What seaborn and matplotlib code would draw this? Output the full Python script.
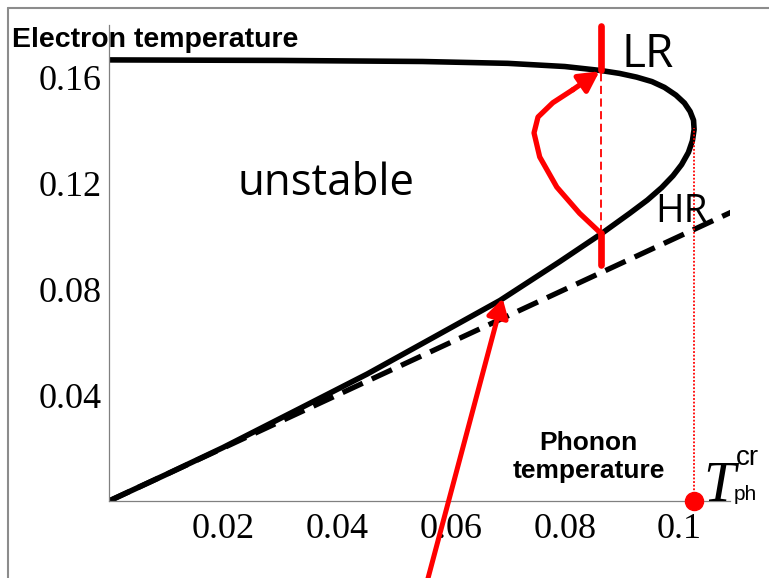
import matplotlib
matplotlib.use("Agg")
import matplotlib.pyplot as plt
from matplotlib.lines import Line2D
import seaborn as sns

# S-shaped steady-state curve: electron temperature vs phonon temperature
curve_x = [0.000, 0.010, 0.020, 0.0335, 0.0453, 0.0568, 0.0686, 0.0791, 0.0865,
           0.0914, 0.0945, 0.0970, 0.0990, 0.1005, 0.1017, 0.1024, 0.1027, 0.1026,
           0.1020, 0.1010, 0.0995, 0.0975, 0.0953, 0.0926, 0.0896, 0.0863, 0.0800,
           0.0700, 0.0550, 0.0300, 0.0000]
curve_y = [0.000, 0.0100, 0.0202, 0.0350, 0.0480, 0.0617, 0.0758, 0.0905, 0.1012,
           0.1088, 0.1138, 0.1185, 0.1230, 0.1272, 0.1318, 0.1362, 0.1405, 0.1440,
           0.1473, 0.1505, 0.1535, 0.1564, 0.1586, 0.1603, 0.1617, 0.1628, 0.1643,
           0.1655, 0.1662, 0.1666, 0.1668]

# equilibrium line T_e = T_ph
eq_x = [0.0, 0.1095]
eq_y = [0.0, 0.1095]

# switching path from the HR branch up to the LR branch
loop_x = [0.0863, 0.0826, 0.0786, 0.0756, 0.0746, 0.0753, 0.0779, 0.0814]
loop_y = [0.1013, 0.1088, 0.1187, 0.1301, 0.1392, 0.1452, 0.1506, 0.1555]
loop_tip = (0.0861, 0.1625)

# operating phonon temperature and branch crossings
t_op = 0.0863
lr_cross = 0.1628
hr_cross = 0.1013
lr_bar_top = 0.1797
hr_bar_bottom = 0.0891

# critical phonon temperature (nose of the curve)
t_cr = 0.1027
nose_y = 0.1410

# incoming arrow onto the lower branch
arrow_tail = (0.0554, -0.034)
arrow_head = (0.0691, 0.0766)

xticks = [0.02, 0.04, 0.06, 0.08, 0.1]
xtick_labels = ["0.02", "0.04", "0.06", "0.08", "0.1"]
yticks = [0.04, 0.08, 0.12, 0.16]
ytick_labels = ["0.04", "0.08", "0.12", "0.16"]

sns.set_theme(style="white")
plt.rcParams['font.family'] = ['Liberation Sans', 'DejaVu Sans']
plt.rcParams['text.color'] = 'black'

W, H = 769, 578
fig = plt.figure(figsize=(W / 100, H / 100), dpi=100)
fig.patch.set_facecolor("white")
ax = fig.add_axes([109 / W, (H - 501) / H, 621 / W, 476 / H])
ax.set_xlim(0, 0.109)
ax.set_ylim(0, 0.18)

# main curve and equilibrium line
sns.lineplot(x=curve_x, y=curve_y, sort=False, estimator=None, color="black",
             lw=4, ax=ax, solid_capstyle="round", solid_joinstyle="round")
sns.lineplot(x=eq_x, y=eq_y, sort=False, estimator=None, color="black",
             lw=3.8, ax=ax, linestyle=(0, (4.2, 1.9)))

# red markers at the operating temperature
red = "#ff0000"
sns.lineplot(x=[t_op, t_op], y=[lr_cross, lr_bar_top], sort=False, estimator=None,
             color=red, lw=4.8, ax=ax, clip_on=False)
sns.lineplot(x=[t_op, t_op], y=[hr_bar_bottom, hr_cross], sort=False, estimator=None,
             color=red, lw=4.8, ax=ax)
sns.lineplot(x=[t_op, t_op], y=[hr_cross, lr_cross], sort=False, estimator=None,
             color=red, lw=1.3, ax=ax, linestyle=(0, (4.5, 2.5)))

# switching loop with arrowhead
sns.lineplot(x=loop_x, y=loop_y, sort=False, estimator=None, color=red, lw=3.8,
             ax=ax, solid_capstyle="round", solid_joinstyle="round")
ax.annotate("", xy=loop_tip, xytext=(loop_x[-1], loop_y[-1]),
            arrowprops=dict(arrowstyle="-|>,head_length=0.6,head_width=0.32",
                            mutation_scale=20, color=red, lw=3.8,
                            shrinkA=0, shrinkB=0))

# critical temperature marker
sns.lineplot(x=[t_cr, t_cr], y=[0, nose_y], sort=False, estimator=None,
             color=red, lw=1.3, ax=ax, linestyle=(0, (1, 1)))
ax.plot([t_cr], [0], "o", color=red, markersize=13, clip_on=False, zorder=5)

# incoming arrow from below
ax.annotate("", xy=arrow_head, xytext=arrow_tail, annotation_clip=False,
            arrowprops=dict(arrowstyle="-|>,head_length=0.55,head_width=0.32",
                            mutation_scale=20, color=red, lw=3.6,
                            shrinkA=0, shrinkB=0))

# axes styling
sns.despine(ax=ax)
for side in ("left", "bottom"):
    ax.spines[side].set_color("#808080")
    ax.spines[side].set_linewidth(0.9)
ax.set_xticks(xticks)
ax.set_xticklabels(xtick_labels, fontfamily="Liberation Serif", fontsize=26)
ax.set_yticks(yticks)
ax.set_yticklabels(ytick_labels, fontfamily="Liberation Serif", fontsize=26)
ax.tick_params(direction="in", length=3, width=0.9, color="#808080",
               labelcolor="black")
ax.tick_params(axis="x", pad=9)
ax.tick_params(axis="y", pad=5)
ax.grid(False)

# labels
fig.text(12 / W, 1 - 47 / H, "Electron temperature", fontsize=20.5,
         fontweight="bold", ha="left", va="baseline")
ax.text(0.0225, 0.1157, "unstable", fontsize=31.5, fontfamily="Open Sans",
        ha="left", va="baseline")
ax.text(0.0900, 0.1641, "LR", fontsize=33, fontfamily="Open Sans",
        ha="left", va="baseline")
ax.text(0.0958, 0.1055, "HR", fontsize=28, fontfamily="Open Sans",
        ha="left", va="baseline")
ax.text(0.0842, 0.0087, "Phonon\ntemperature", fontsize=19, fontweight="bold",
        ha="center", va="baseline", multialignment="center", linespacing=1.2)
ax.text(0.1043, 0.0, "T", fontsize=41, fontfamily="Liberation Serif",
        style="italic", ha="left", va="baseline")
ax.text(0.1101, 0.0136, "cr", fontsize=20, ha="left", va="baseline")
ax.text(0.1096, 0.0005, "ph", fontsize=15, ha="left", va="baseline")

# outer frame
frame_col = "#8c8c8c"
fig.add_artist(Line2D([8 / W, 8 / W], [0, 1 - 8 / H], transform=fig.transFigure,
                      color=frame_col, lw=1.5))
fig.add_artist(Line2D([8 / W, 1], [1 - 8 / H, 1 - 8 / H], transform=fig.transFigure,
                      color=frame_col, lw=1.5))

fig.savefig("out.png", dpi=100, facecolor="white")
